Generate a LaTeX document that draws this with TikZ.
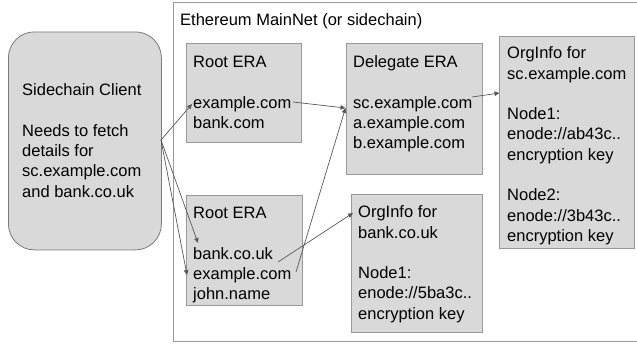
\documentclass[tikz,border=0pt]{standalone}
\usepackage{fontspec}
\setmainfont{Liberation Sans}
\usetikzlibrary{arrows.meta}
\definecolor{boxfill}{HTML}{D9D9D9}
\definecolor{boxline}{HTML}{999999}
\definecolor{clientline}{HTML}{7A7A7A}
\definecolor{arrowc}{HTML}{595959}
\begin{document}
\begin{tikzpicture}[x=1pt,y=-1pt,
  box/.style={draw=boxline, fill=boxfill, line width=0.8pt, anchor=north west, inner sep=0pt},
  txt/.style={anchor=north west, inner sep=0pt, align=left, font=\fontsize{16.5}{20.3}\selectfont},
  conn/.style={draw=arrowc, line width=0.7pt, -{Triangle[length=5pt,width=4.5pt]}}
]
\useasboundingbox (0,0) rectangle (637,343);
\fill[white] (0,0) rectangle (637,343);
% outer frame
\node[draw=boxline, line width=0.8pt, anchor=north west, inner sep=0pt, minimum width=470pt, minimum height=339pt] (frame) at (173,2) {};
\node[txt] (title) at (180,11.3) {\strut Ethereum MainNet (or sidechain)};
% client
\node[box, draw=clientline, rounded corners=26pt, minimum width=153pt, minimum height=218pt] (client) at (8,31.5) {};
\node[txt] (tclient) at (22,81.3) {\strut Sidechain Client\\[20.3pt] Needs to fetch\\ details for\\ sc.example.com\\ and bank.co.uk};
% boxes
\node[box, minimum width=115pt, minimum height=99pt] (root1) at (186,43) {};
\node[txt] (troot1) at (193,53.3) {\strut Root ERA\\[20.3pt] example.com\\ bank.com};
\node[box, minimum width=116pt, minimum height=110pt] (root2) at (185.5,195) {};
\node[txt] (troot2) at (193,204.3) {\strut Root ERA\\[20.3pt] bank.co.uk\\ example.com\\ john.name};
\node[box, minimum width=136pt, minimum height=131pt] (deleg) at (346,43) {};
\node[txt] (tdeleg) at (353,53.3) {\strut Delegate ERA\\[20.3pt] sc.example.com\\ a.example.com\\ b.example.com};
\node[box, minimum width=135pt, minimum height=212pt] (orgsc) at (499,36) {};
\node[txt] (torgsc) at (507,44.3) {\strut OrgInfo for\\ sc.example.com\\[20.3pt] Node1:\\ enode://ab43c..\\ encryption key\\[20.3pt] Node2:\\ enode://3b43c..\\ encryption key};
\node[box, minimum width=131pt, minimum height=138pt] (orgbank) at (351,194) {};
\node[txt] (torgbank) at (358,203.3) {\strut OrgInfo for\\ bank.co.uk\\[20.3pt] Node1:\\ enode://5ba3c..\\ encryption key};
% connector end points
\coordinate (cout) at (161,140);
\coordinate (r1in) at (192,104);
\coordinate (r2bank) at (198,243);
\coordinate (r2ex) at (187,275);
\coordinate (r1out) at (293,102);
\coordinate (r2exout) at (296,272);
\coordinate (r2bankout) at (278,262);
\coordinate (delin) at (345.5,108);
\coordinate (obin) at (353,213);
\coordinate (delout) at (472,97);
\coordinate (oscin) at (499.5,93);
% connectors
\draw[conn] (cout) -- (r1in);
\draw[conn] (cout) -- (r2bank);
\draw[conn] (cout) -- (r2ex);
\draw[conn] (r1out) -- (delin);
\draw[conn] (r2exout) -- (delin);
\draw[conn] (r2bankout) -- (obin);
\draw[conn] (delout) -- (oscin);
\end{tikzpicture}
\end{document}
